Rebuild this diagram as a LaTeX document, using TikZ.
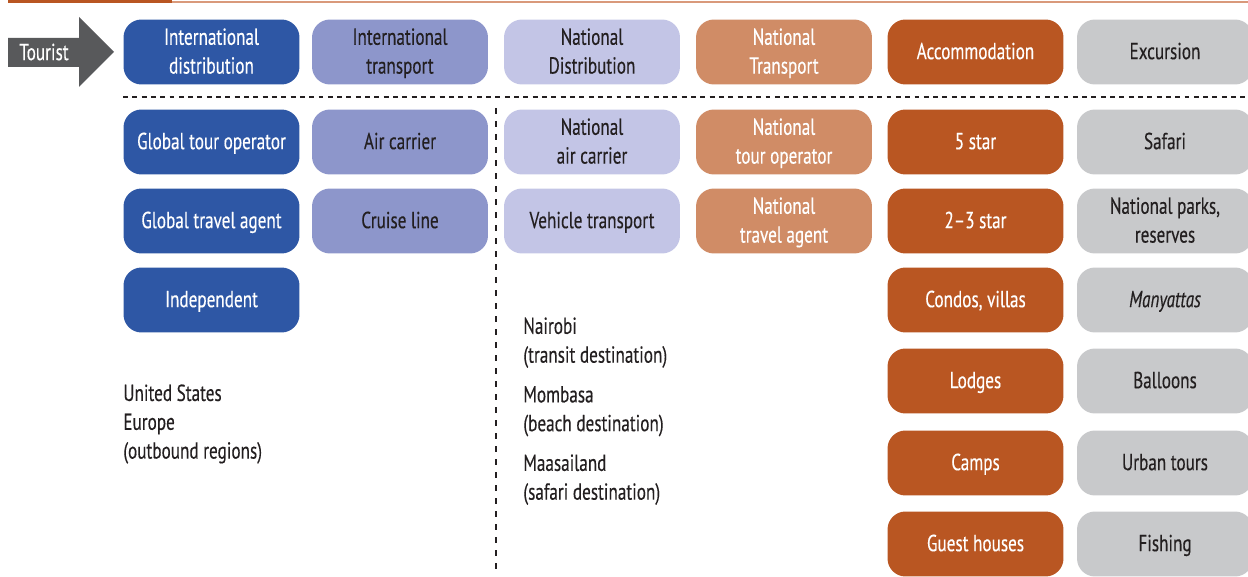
\documentclass[tikz,border=0pt]{standalone}
\usepackage{fontspec}
\setmainfont{PT Sans}[FakeStretch=0.74,FakeBold=0.3]
\usetikzlibrary{positioning}

\definecolor{blueA}{HTML}{2E57A5}
\definecolor{blueB}{HTML}{8D96CB}
\definecolor{blueC}{HTML}{C3C5E6}
\definecolor{rustA}{HTML}{D08C66}
\definecolor{rustB}{HTML}{B95622}
\definecolor{greyA}{HTML}{C8C9CB}
\definecolor{greyB}{HTML}{58595B}
\definecolor{inkA}{HTML}{231F20}
\definecolor{lineA}{HTML}{D9997B}

% tabular keeps the line height even; the shorter depth drops the text a little
\newcommand\celltext[1]{\raisebox{0pt}[\height][\dimexpr\depth-1.6pt]{\begin{tabular}{@{}c@{}}#1\end{tabular}}}
\newcommand\lefttext[1]{\begin{tabular}{@{}l@{}}#1\end{tabular}}

\tikzset
{
  box/.style={rounded corners=0.36cm,minimum width=3.52cm,minimum height=1.3cm,
    inner sep=0pt,font=\fontsize{13.2}{16.4}\selectfont},
  col1/.style={box,fill=blueA,text=white},
  col2/.style={box,fill=blueB,text=inkA},
  col3/.style={box,fill=blueC,text=inkA},
  col4/.style={box,fill=rustA,text=white},
  col5/.style={box,fill=rustB,text=white},
  col6/.style={box,fill=greyA,text=inkA},
  plain/.style={inner sep=0pt,text=inkA,font=\fontsize{13.2}{16.4}\selectfont},
  sepline/.style={line width=1.7pt,inkA,dash pattern=on 2.8pt off 2.5pt},
}

\begin{document}
\begin{tikzpicture}[x=0.02cm,y=-0.02cm]
\useasboundingbox (0,0) rectangle (1248,577);
% top rule
\draw[line width=0.6pt,lineA] (172,2) -- (1248,2);
\draw[line width=1.7pt,rustB] (8,1.5) -- (172,1.5);
% tourist arrow
\fill[greyB] (8,38) -- (79,38) -- (79,17) -- (114,52) -- (79,87) -- (79,67) -- (8,67) -- cycle;
\node[font=\fontsize{13.2}{16.4}\selectfont,text=white] (tourist) at (44,52) {Tourist};
% header row
\foreach\txt/\cc[count=\c] in {{International\\distribution}/col1,{International\\transport}/col2,
  {National\\Distribution}/col3,{National\\Transport}/col4,Accommodation/col5,Excursion/col6}
{
  \pgfmathsetmacro\x{{211.5,400,592,784,975.5,1165}[\c-1]}
  \node[\cc] (h\c) at (\x,52) {\celltext{\txt}};
}
\draw[sepline] (123,97) -- (1248,97);
\draw[line width=1.6pt,inkA,dash pattern=on 3.4pt off 4pt] (496,108) -- (496,570);
% columns
\foreach\txt[count=\r] in {{Global tour operator},{Global travel agent},Independent}
{
  \pgfmathsetmacro\y{{142,221,300}[\r-1]}
  \node[col1] (intl\r) at (211.5,\y) {\celltext{\txt}};
}
\foreach\txt[count=\r] in {{Air carrier},{Cruise line}}
{
  \pgfmathsetmacro\y{{142,221}[\r-1]}
  \node[col2] (carrier\r) at (400,\y) {\celltext{\txt}};
}
\foreach\txt[count=\r] in {{National\\air carrier},{Vehicle transport}}
{
  \pgfmathsetmacro\y{{142,221}[\r-1]}
  \node[col3] (natl\r) at (592,\y) {\celltext{\txt}};
}
\foreach\txt[count=\r] in {{National\\tour operator},{National\\travel agent}}
{
  \pgfmathsetmacro\y{{142,221}[\r-1]}
  \node[col4] (agent\r) at (784,\y) {\celltext{\txt}};
}
\foreach\txt[count=\r] in {{5 star},{2--3 star},{Condos, villas},Lodges,Camps,{Guest houses}}
{
  \pgfmathsetmacro\y{{142,221,300,381,463,544}[\r-1]}
  \node[col5] (accom\r) at (975.5,\y) {\celltext{\txt}};
}
\foreach\txt[count=\r] in {Safari,{National parks,\\reserves},{\textit{Manyattas}},Balloons,{Urban tours},Fishing}
{
  \pgfmathsetmacro\y{{142,221,300,381,463,544}[\r-1]}
  \node[col6] (excur\r) at (1165,\y) {\celltext{\txt}};
}
% regions
\node[plain,anchor=west] (outbound) at (123,424) {\lefttext{United States\\Europe\\(outbound regions)}};
\node[plain,anchor=west] (nairobi) at (523,342.5) {\lefttext{Nairobi\\(transit destination)}};
\node[plain,anchor=west] (mombasa) at (523,411) {\lefttext{Mombasa\\(beach destination)}};
\node[plain,anchor=west] (maasai) at (523,479.5) {\lefttext{Maasailand\\(safari destination)}};
\end{tikzpicture}
\end{document}
